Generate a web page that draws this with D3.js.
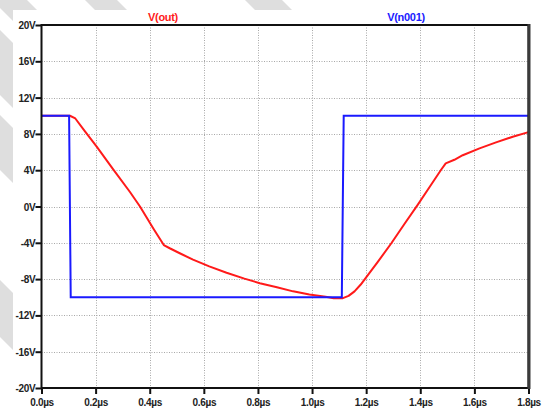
<!DOCTYPE html>
<html>
<head>
<meta charset="utf-8">
<script src="https://cdn.jsdelivr.net/npm/d3@7"></script>
<style>
  html, body { margin: 0; padding: 0; background: #ffffff; }
  svg { display: block; }
  text { font-family: "Liberation Sans", Arial, sans-serif; font-weight: bold; }
</style>
</head>
<body>
<svg id="chart" width="549" height="412"></svg>
<script>
// Transient analysis traces (time in µs, voltage in V)
const seriesNames = ["V(out)", "V(n001)"];
const seriesColors = ["#ff1a1a", "#1a1aff"];

const outTime = [0, 0.105, 0.125, 0.16, 0.204, 0.265, 0.327, 0.364, 0.415, 0.452, 0.474, 0.511, 0.56, 0.62, 0.684, 0.75, 0.807, 0.87, 0.93, 0.99, 1.05, 1.08, 1.114, 1.135, 1.157, 1.18, 1.2, 1.243, 1.293, 1.342, 1.391, 1.44, 1.477, 1.494, 1.526, 1.557, 1.619, 1.68, 1.742, 1.8];
const outVolt = [10, 10, 9.7, 8.3, 6.6, 4.1, 1.6, 0.0, -2.5, -4.25, -4.6, -5.15, -5.85, -6.6, -7.3, -7.95, -8.45, -8.9, -9.35, -9.7, -9.95, -10.1, -10.1, -9.85, -9.35, -8.6, -7.8, -6.1, -4.05, -1.9, 0.2, 2.4, 4.05, 4.75, 5.15, 5.65, 6.4, 7.07, 7.69, 8.2];

const inTime = [0, 0.102, 0.108, 1.110, 1.117, 1.8];
const inVolt = [10, 10, -10, -10, 10, 10];

const xTicks = [0, 0.2, 0.4, 0.6, 0.8, 1.0, 1.2, 1.4, 1.6, 1.8];
const xTickLabels = ["0.0µs", "0.2µs", "0.4µs", "0.6µs", "0.8µs", "1.0µs", "1.2µs", "1.4µs", "1.6µs", "1.8µs"];
const yTicks = [20, 16, 12, 8, 4, 0, -4, -8, -12, -16, -20];
const yTickLabels = ["20V", "16V", "12V", "8V", "4V", "0V", "-4V", "-8V", "-12V", "-16V", "-20V"];

// Diagonal background bands, as ranges of (x - y) in page pixels
const bandRanges = [[-8, 27], [85, 117], [245, 282], [-95, -30], [-170, -115], [-337, -280]];

const W = 549, H = 412;
const svg = d3.select("#chart");

// Background bands behind the panel
const bg = svg.append("g");
bandRanges.forEach(([a, b]) => {
  const pts = [[a, 0], [b, 0], [b + H, H], [a + H, H]];
  bg.append("polygon")
    .attr("points", pts.map(p => p.join(",")).join(" "))
    .attr("fill", "#dedede");
});
// White panel
svg.append("rect").attr("x", 13).attr("y", 10).attr("width", W - 13).attr("height", H - 10).attr("fill", "#ffffff");

const x = d3.scaleLinear().domain([0, 1.8]).range([41.5, 528.5]);
const y = d3.scaleLinear().domain([-20, 20]).range([388, 25]);

// Dotted grid
const grid = svg.append("g").attr("stroke", "#a8a8a8").attr("stroke-width", 1).attr("stroke-dasharray", "1,1.5");
xTicks.slice(1, -1).forEach(t => {
  grid.append("line").attr("x1", Math.round(x(t)) + 0.5).attr("x2", Math.round(x(t)) + 0.5)
    .attr("y1", y(20)).attr("y2", y(-20));
});
yTicks.slice(1, -1).forEach(v => {
  grid.append("line").attr("y1", Math.round(y(v)) + 0.5).attr("y2", Math.round(y(v)) + 0.5)
    .attr("x1", x(0)).attr("x2", x(1.8));
});

// Axes
const xAxis = d3.axisBottom(x).tickValues(xTicks).tickFormat((d, i) => xTickLabels[i]).tickSize(6).tickSizeOuter(0);
const yAxis = d3.axisLeft(y).tickValues(yTicks).tickFormat((d, i) => yTickLabels[i]).tickSize(6).tickSizeOuter(0);

const gx = svg.append("g").attr("transform", `translate(0,${y(-20)})`).call(xAxis);
const gy = svg.append("g").attr("transform", `translate(${x(0)},0)`).call(yAxis);
[gx, gy].forEach(g => {
  g.select(".domain").remove();
  g.selectAll(".tick line").attr("stroke", "#111").attr("stroke-width", 2);
  g.selectAll(".tick text").attr("fill", "#222").attr("font-size", "10px")
    .attr("font-family", "'Liberation Sans', Arial, sans-serif").attr("font-weight", "bold")
    .attr("letter-spacing", "-0.3px");
});
gx.selectAll(".tick text").attr("dy", "0").attr("y", 18);
gy.selectAll(".tick text").attr("x", -6).attr("dy", "0.35em");

// Traces
const line = d3.line().x(d => x(d[0])).y(d => y(d[1]));
const outData = outTime.map((t, i) => [t, outVolt[i]]);
const inData = inTime.map((t, i) => [t, inVolt[i]]);

svg.append("path").datum(outData).attr("d", line).attr("fill", "none")
  .attr("stroke", seriesColors[0]).attr("stroke-width", 2).attr("stroke-linejoin", "round");
svg.append("path").datum(inData).attr("d", line).attr("fill", "none")
  .attr("stroke", seriesColors[1]).attr("stroke-width", 2);

// Plot frame
svg.append("rect").attr("x", x(0)).attr("y", y(20)).attr("width", x(1.8) - x(0)).attr("height", y(-20) - y(20))
  .attr("fill", "none").attr("stroke", "#111").attr("stroke-width", 2);
// Heavier right edge of the frame
svg.append("line").attr("x1", x(1.8) + 0.5).attr("x2", x(1.8) + 0.5).attr("y1", y(20) - 1).attr("y2", y(-20) + 1)
  .attr("stroke", "#3a3a3a").attr("stroke-width", 3);

// Trace labels
const labelX = [163, 406];
seriesNames.forEach((name, i) => {
  svg.append("text").attr("x", labelX[i]).attr("y", 21).attr("text-anchor", "middle")
    .attr("font-size", "11px").attr("letter-spacing", "-0.3px")
    .attr("fill", seriesColors[i]).text(name);
});
</script>
</body>
</html>
